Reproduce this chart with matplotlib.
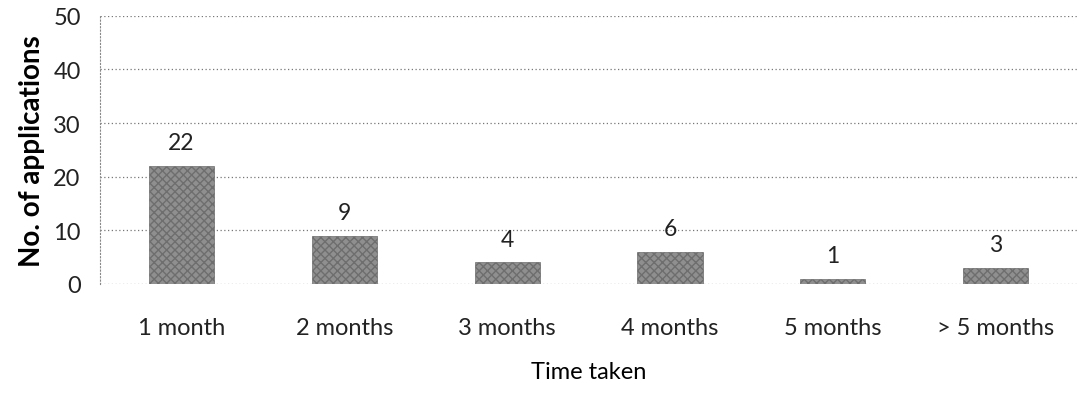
import matplotlib
matplotlib.use("Agg")
from matplotlib import pyplot as plt

# categories and counts
periods = ["1 month", "2 months", "3 months", "4 months", "5 months", "> 5 months"]
counts = [22, 9, 4, 6, 1, 3]
y_ticks = [0, 10, 20, 30, 40, 50]

plt.rcParams["font.family"] = ["Lato", "DejaVu Sans"]

fig = plt.figure(figsize=(10.77, 4.10), dpi=100)
ax = fig.add_axes([0.093, 0.305, 0.907, 0.654])

x = range(len(periods))
bars = ax.bar(x, counts, width=0.4, color="#8f8f8f", edgecolor="#6e6e6e",
              hatch="xxxx", linewidth=0.5, zorder=3)

# value labels above each bar
for xi, v in zip(x, counts):
    ax.annotate(str(v), (xi, v), xytext=(0, 9), textcoords="offset points",
                ha="center", va="bottom", fontsize=16.5, color="#222222")

ax.set_xlim(-0.5, len(periods) - 0.5)
ax.set_ylim(0, 50)
ax.set_yticks(y_ticks)
ax.set_xticks(list(x))
ax.set_xticklabels(periods)
ax.tick_params(axis="both", length=0, labelsize=17, colors="#222222")
ax.tick_params(axis="x", pad=24)
ax.tick_params(axis="y", pad=14)

ax.grid(axis="y", linestyle=(0, (1, 2)), color="#777777", linewidth=0.9, zorder=0)
for s in ["top", "right", "bottom"]:
    ax.spines[s].set_visible(False)
ax.spines["left"].set_linestyle((0, (1, 2)))
ax.spines["left"].set_color("#888888")

ax.set_ylabel("No. of applications", fontsize=20, fontweight="bold", labelpad=6)
ax.set_xlabel("Time taken", fontsize=17, labelpad=16)

fig.savefig("out.png", dpi=100)
